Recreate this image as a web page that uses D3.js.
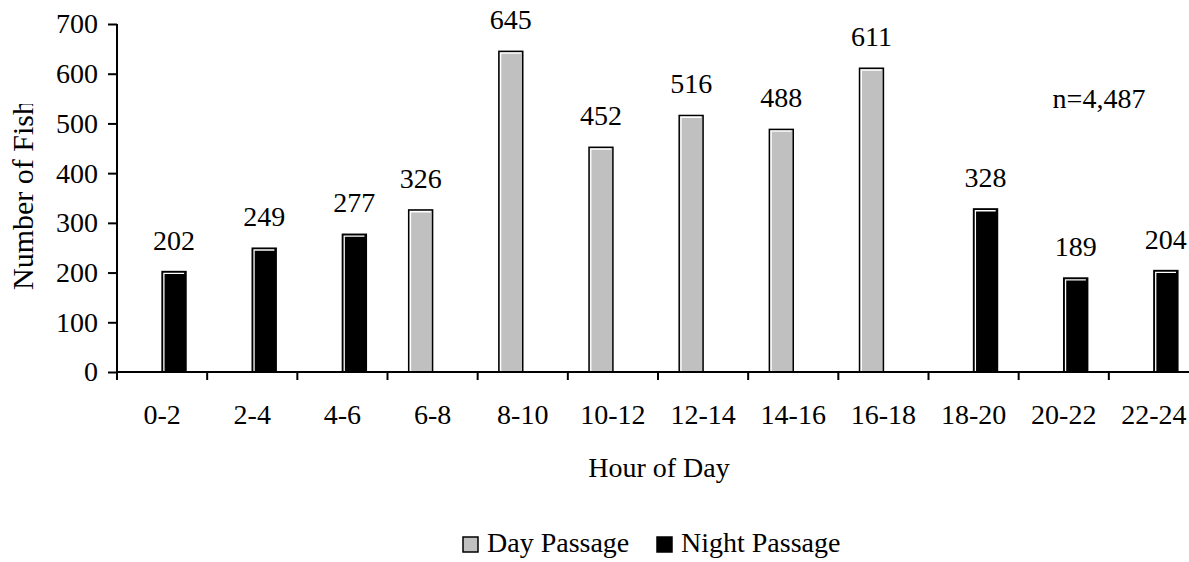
<!DOCTYPE html>
<html>
<head>
<meta charset="utf-8">
<script src="https://cdn.jsdelivr.net/npm/d3@7"></script>
<style>
  body { margin: 0; background: #fff; }
  text { font-family: "Liberation Serif", "Times New Roman", serif; fill: #000; }
</style>
</head>
<body>
<script>
var hours = ["0-2","2-4","4-6","6-8","8-10","10-12","12-14","14-16","16-18","18-20","20-22","22-24"];
var dayValues = [0,0,0,326,645,452,516,488,611,0,0,0];
var nightValues = [202,249,277,0,0,0,0,0,0,328,189,204];
var seriesNames = ["Day Passage","Night Passage"];
var seriesColors = ["#c0c0c0","#000000"];
var yTicks = [0,100,200,300,400,500,600,700];

var W = 1189, H = 562;
var mLeft = 117, mTop = 24, mBottom = 372, mRight = 1199;
var fs = 28;

var svg = d3.select("body").append("svg").attr("width",W).attr("height",H);

var x = d3.scaleBand().domain(hours).range([mLeft,mRight]).padding(0);
var y = d3.scaleLinear().domain([0,700]).range([mBottom,mTop]);
var gw = x.bandwidth()*0.53;
var xs = d3.scaleBand().domain(seriesNames).range([(x.bandwidth()-gw)/2,(x.bandwidth()+gw)/2]);

// bars
var rows = [];
hours.forEach(function(h,i){
  rows.push({h:h, s:seriesNames[0], v:dayValues[i], c:seriesColors[0]});
  rows.push({h:h, s:seriesNames[1], v:nightValues[i], c:seriesColors[1]});
});
rows = rows.filter(function(d){ return d.v > 0; });

var bars = svg.selectAll("g.bar").data(rows).enter().append("g").attr("class","bar");
bars.append("rect")
    .attr("x",function(d){ return x(d.h)+xs(d.s); })
    .attr("y",function(d){ return y(d.v); })
    .attr("width",xs.bandwidth())
    .attr("height",function(d){ return mBottom-y(d.v); })
    .attr("fill",function(d){ return d.c; })
    .attr("stroke","#000").attr("stroke-width",1.5);
bars.append("path")
    .attr("d",function(d){
      var x0 = x(d.h)+xs(d.s)+1.8, y0 = y(d.v)+1.8;
      return "M"+x0+","+mBottom+"V"+y0+"H"+(x0+xs.bandwidth()-3.6);
    })
    .attr("fill","none").attr("stroke","#fff").attr("stroke-width",1.3);
bars.append("text")
    .attr("x",function(d){ return x(d.h)+xs(d.s)+xs.bandwidth()/2; })
    .attr("y",function(d){ return y(d.v)-22; })
    .attr("text-anchor","middle").attr("font-size",fs)
    .text(function(d){ return d.v; });

// y axis
var ya = svg.append("g").attr("transform","translate("+mLeft+",0)")
    .call(d3.axisLeft(y).tickValues(yTicks).tickSize(9).tickPadding(10));
ya.select(".domain").attr("stroke-width",2).attr("d","M0,"+mTop+"V"+mBottom);
ya.selectAll(".tick line").attr("stroke-width",2);
ya.selectAll(".tick text").attr("font-size",fs).attr("font-family","Liberation Serif");

// x axis
var xa = svg.append("g").attr("transform","translate(0,"+mBottom+")")
    .call(d3.axisBottom(x).tickSize(0).tickPadding(32));
xa.select(".domain").attr("stroke-width",2).attr("d","M"+mLeft+",0H"+mRight);
xa.selectAll(".tick text").attr("font-size",fs).attr("font-family","Liberation Serif");
xa.selectAll("line.sep").data(d3.range(hours.length+1)).enter().append("line")
    .attr("class","sep")
    .attr("x1",function(i){ return mLeft+i*x.step(); })
    .attr("x2",function(i){ return mLeft+i*x.step(); })
    .attr("y1",0).attr("y2",8)
    .attr("stroke","#000").attr("stroke-width",2);

// titles
svg.append("text").attr("x",659).attr("y",477)
    .attr("text-anchor","middle").attr("font-size",fs).text("Hour of Day");

// y title is cut off at its top end in the original
svg.append("clipPath").attr("id","yclip").append("rect")
    .attr("x",0).attr("y",104).attr("width",60).attr("height",300);
svg.append("g").attr("clip-path","url(#yclip)")
  .append("text")
    .attr("transform","translate(33,290) rotate(-90)")
    .attr("font-size",30).text("Number of Fish");

svg.append("text").attr("x",1099).attr("y",108)
    .attr("text-anchor","middle").attr("font-size",fs).text("n=4,487");

// legend
var lx = [463,657];
var lg = svg.selectAll("g.leg").data(seriesNames).enter().append("g").attr("class","leg")
    .attr("transform",function(d,i){ return "translate("+lx[i]+",537)"; });
lg.append("rect").attr("width",15).attr("height",15)
    .attr("fill",function(d,i){ return seriesColors[i]; })
    .attr("stroke","#000").attr("stroke-width",1.5);
lg.append("text").attr("x",24).attr("y",15).attr("font-size",fs).text(function(d){ return d; });
</script>
</body>
</html>
